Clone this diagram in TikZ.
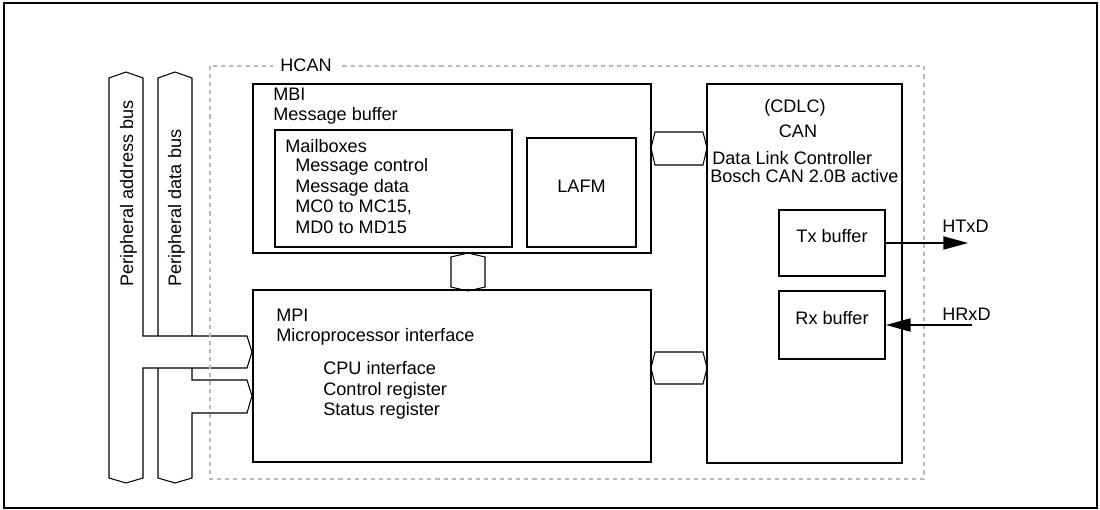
\documentclass[tikz,border=0pt]{standalone}
\usepackage{fontspec}
\setmainfont{Liberation Sans}
\usetikzlibrary{arrows.meta,positioning,fit,calc}

\begin{document}
\begin{tikzpicture}[
    x=0.02cm, y=-0.02cm,
    font=\fontsize{10.3}{12}\selectfont,
    blk/.style={draw, line width=1.1pt, inner sep=0pt},
    txt/.style={inner sep=0pt, anchor=base west},
    ctxt/.style={inner sep=0pt, anchor=base},
    bus/.style={draw, line width=0.6pt, fill=white, line join=miter},
    link/.style={draw, line width=0.6pt},
    sig/.style={line width=0.7pt, -{Triangle[length=14pt,width=7.5pt]}}
]
\useasboundingbox (0,0) rectangle (1100,510);
\node[draw, line width=1.2pt, inner sep=0pt, fit={(4,3) (1097,508)}] (frame) {};

\draw[bus] (175,72) -- (192,78) -- (192,380) -- (247,380) -- (252,396) -- (247,413)
    -- (192,413) -- (192,478) -- (175,483) -- (158,478) -- (158,78) -- cycle;
\draw[bus] (126,72) -- (143,78) -- (143,336) -- (247,336) -- (252,352) -- (247,368)
    -- (143,368) -- (143,478) -- (126,483) -- (109,478) -- (109,78) -- cycle;
\node[txt, rotate=90] (abus) at (133,287) {Peripheral address bus};
\node[txt, rotate=90] (dbus) at (181,287) {Peripheral data bus};

\draw[gray!55, line width=0.6pt, dash pattern=on 2.3pt off 2.3pt] (210,66) rectangle (924,479);
\node[txt, fill=white, inner xsep=4pt] (hcan) at (273,72) {HCAN};

\node[blk, fit={(253,84) (651,253)}] (mbi) {};
\node[blk, fit={(275,130) (512,247)}] (mbox) {};
\node[blk, fit={(527,138) (636,247)}] (lafm) {LAFM};
\node[blk, fit={(253,290) (651,462)}] (mpi) {};
\node[blk, fit={(707,84) (902,463)}] (cdlc) {};
\node[blk, fit={(779,210) (885,276)}] (tx) {Tx buffer};
\node[blk, fit={(779,291) (885,359)}] (rx) {Rx buffer};

\node[txt] (mbit) at (273,101) {MBI};
\node[txt] (mbuf) at (273,121) {Message buffer};
\node[txt] (mboxt) at (285,153) {Mailboxes};
\node[txt] (mctl) at (295,172) {Message control};
\node[txt] (mdat) at (295,193) {Message data};
\node[txt] (mcn) at (295,213) {MC0 to MC15,};
\node[txt] (mdn) at (295,234) {MD0 to MD15};

\node[txt] (mpit) at (276,321) {MPI};
\node[txt] (mpif) at (276,341) {Microprocessor interface};
\node[txt] (cpuif) at (323,375) {CPU interface};
\node[txt] (ctlreg) at (323,395) {Control register};
\node[txt] (streg) at (323,415) {Status register};

\node[ctxt] (cdlct) at (795,113) {(CDLC)};
\node[ctxt] (cant) at (798,138) {CAN};
\node[txt] (dlc) at (712,165) {Data Link Controller};
\node[txt] (bosch) at (710,183) {Bosch CAN 2.0B active};

\draw[link] (651,148) -- (655,132) -- (703,132) -- (707,148) -- (703,165) -- (655,165) -- cycle;
\draw[link] (651,368) -- (655,352) -- (703,352) -- (707,368) -- (703,384) -- (655,384) -- cycle;
\draw[link] (468,253) -- (485,257) -- (485,287) -- (468,291) -- (451,287) -- (451,257) -- cycle;

\coordinate (htxd) at (968,243);
\coordinate (hrxd) at (972,325);
\draw[sig] (tx.east) -- (htxd);
\draw[sig] (hrxd) -- (rx.east);
\node[txt] (htxdlbl) at (942,233) {HTxD};
\node[txt] (hrxdlbl) at (942,320) {HRxD};
\end{tikzpicture}
\end{document}
